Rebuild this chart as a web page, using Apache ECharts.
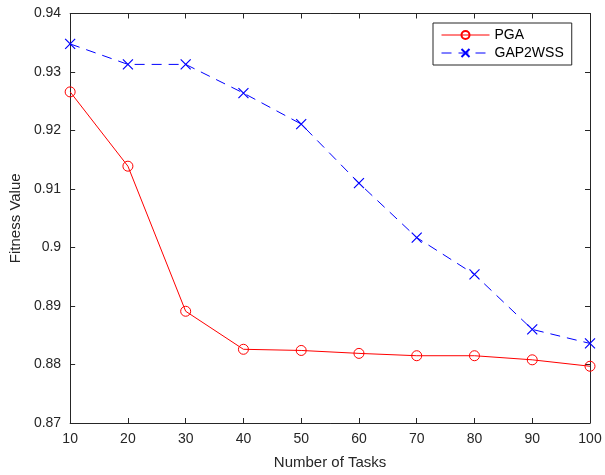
<!DOCTYPE html>
<html>
<head>
<meta charset="utf-8">
<script src="https://cdn.jsdelivr.net/npm/echarts@6/dist/echarts.min.js"></script>
<style>html,body{margin:0;padding:0;background:#fff}#c{width:605px;height:475px}</style>
</head>
<body>
<div id="c"></div>
<script>
var tasks = [10, 20, 30, 40, 50, 60, 70, 80, 90, 100];
var pga = [0.9266, 0.9139, 0.8891, 0.8826, 0.8824, 0.8819, 0.8815, 0.8815, 0.8808, 0.8797];
var gap2wss = [0.9348, 0.9313, 0.9313, 0.9264, 0.9211, 0.9110, 0.9017, 0.8954, 0.8860, 0.8836];
var seriesNames = ['PGA', 'GAP2WSS'];

function pairs(xs, ys) { return xs.map(function (x, i) { return [x, ys[i]]; }); }

var axisColor = '#262626';
var font = 'Liberation Sans, Arial, Helvetica, sans-serif';
var chart = echarts.init(document.getElementById('c'), null, {renderer: 'canvas'});
var crossPath = 'path://M0 0L10 10M10 0L0 10';
var baseAxis = {
  axisLine: {show: true, onZero: false, lineStyle: {color: axisColor, width: 1}},
  axisTick: {show: true, inside: true, length: 5, lineStyle: {color: axisColor}},
  splitLine: {show: false}
};
chart.setOption({
  animation: false,
  backgroundColor: '#fff',
  textStyle: {fontFamily: font},
  grid: {left: 69, right: 15, top: 13.5, bottom: 50, containLabel: false},
  legend: {
    orient: 'vertical',
    left: 433, top: 23,
    data: seriesNames,
    backgroundColor: '#fff',
    borderColor: axisColor, borderWidth: 1,
    padding: [5, 8, 5, 8],
    itemGap: 4,
    itemWidth: 48, itemHeight: 10,
    lineStyle: {width: 1},
    textStyle: {fontSize: 14, color: '#000', fontFamily: font}
  },
  xAxis: [
    Object.assign({}, baseAxis, {
      type: 'value', min: 10, max: 100, interval: 10, position: 'bottom',
      name: 'Number of Tasks', nameLocation: 'middle', nameGap: 32,
      nameTextStyle: {fontSize: 15, color: axisColor, fontFamily: font},
      axisLabel: {fontSize: 14, color: axisColor, margin: 9, fontFamily: font}
    }),
    Object.assign({}, baseAxis, {
      type: 'value', min: 10, max: 100, interval: 10, position: 'top',
      axisLabel: {show: false}
    })
  ],
  yAxis: [
    Object.assign({}, baseAxis, {
      type: 'value', min: 0.87, max: 0.94, interval: 0.01, position: 'left',
      name: 'Fitness Value', nameLocation: 'middle', nameGap: 43, nameRotate: 90,
      nameTextStyle: {fontSize: 15, color: axisColor, fontFamily: font},
      axisLabel: {fontSize: 14, color: axisColor, margin: 9, fontFamily: font,
        formatter: function (v) { return String(+v.toFixed(2)); }}
    }),
    Object.assign({}, baseAxis, {
      type: 'value', min: 0.87, max: 0.94, interval: 0.01, position: 'right',
      axisLabel: {show: false}
    })
  ],
  series: [
    {
      name: seriesNames[0], type: 'line', data: pairs(tasks, pga),
      symbol: 'circle', symbolSize: 10,
      lineStyle: {color: '#ff0000', width: 1},
      itemStyle: {color: 'rgba(255,255,255,0)', borderColor: '#ff0000', borderWidth: 1},
      z: 3
    },
    {
      name: seriesNames[1], type: 'line', data: pairs(tasks, gap2wss),
      symbol: crossPath, symbolSize: 10,
      lineStyle: {color: '#0000ff', width: 1, type: [10, 7]},
      itemStyle: {color: '#0000ff', borderColor: '#0000ff', borderWidth: 1.2},
      z: 2
    }
  ]
});
</script>
</body>
</html>
